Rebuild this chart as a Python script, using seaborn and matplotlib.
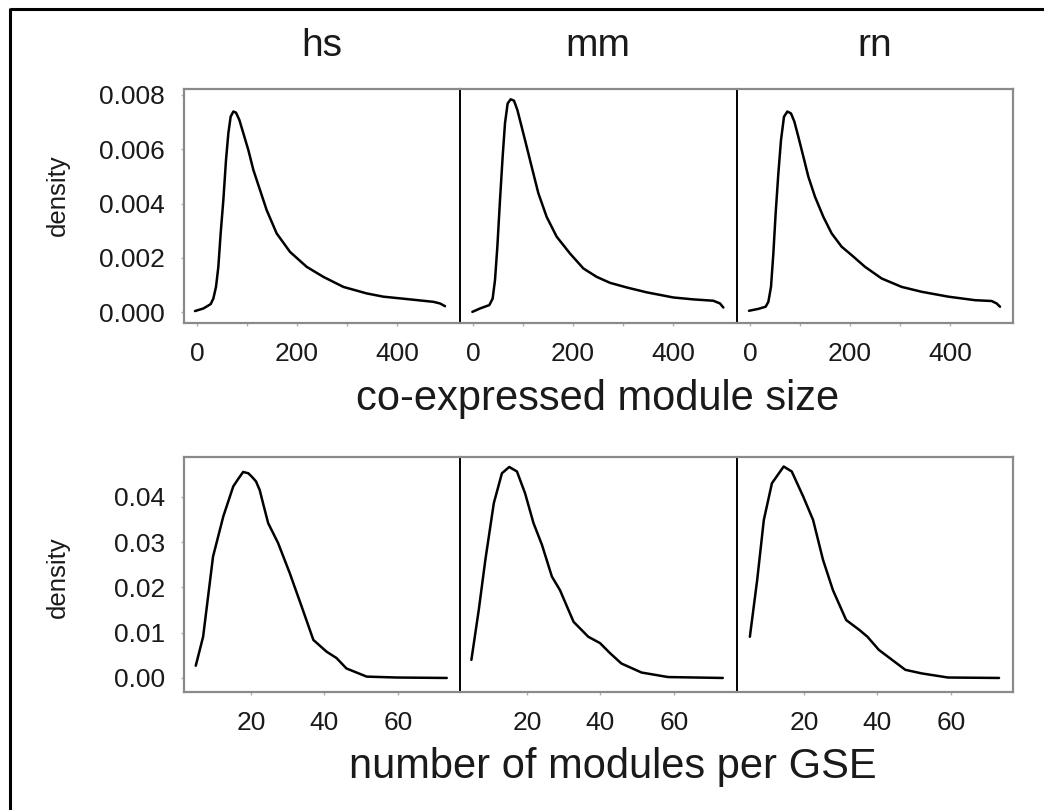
import matplotlib
matplotlib.use("Agg")
import matplotlib.pyplot as plt
import pandas as pd
import seaborn as sns
from matplotlib.lines import Line2D
from matplotlib.ticker import FormatStrFormatter, FixedLocator

species = ["hs", "mm", "rn"]

# top row: density of co-expressed module size
size_hs_x = [-4, 12.7, 27.3, 32.7, 38, 42.7, 47.3, 52.7, 58, 62.7, 67.3, 72.7, 78, 84.7, 92.7,
             102.7, 112.7, 126, 139.3, 159.3, 186, 219.3, 252.7, 292.7, 339.3, 372.7, 426,
             472.7, 486, 496]
size_hs_y = [0.00004, 0.000135, 0.000295, 0.0005, 0.00093, 0.00167, 0.0029, 0.00413, 0.0056,
             0.00659, 0.0072, 0.00739, 0.00735, 0.00708, 0.00659, 0.00597, 0.00524, 0.0045,
             0.00376, 0.0029, 0.00222, 0.00167, 0.0013, 0.00093, 0.00069, 0.00057, 0.00047,
             0.00038, 0.00032, 0.00022]

size_mm_x = [-1.3, 14, 32.7, 39.3, 44, 48.7, 54, 59.3, 64, 69.3, 75.3, 82, 88.7, 97.3, 107.3,
             117.3, 130.7, 147.3, 167.3, 194, 220.7, 247.3, 274, 307.3, 347.3, 400.7, 440.7,
             480.7, 494, 500.7]
size_mm_y = [0.00001, 0.000135, 0.00026, 0.0005, 0.00118, 0.00241, 0.00413, 0.00573, 0.00696,
             0.00769, 0.00784, 0.00779, 0.00745, 0.00683, 0.0061, 0.00536, 0.00438, 0.00351,
             0.00278, 0.00216, 0.00161, 0.0013, 0.00108, 0.00091, 0.00073, 0.00054, 0.00047,
             0.00042, 0.00032, 0.00017]

size_rn_x = [-2, 16.7, 31.3, 36.7, 42, 46.7, 51.3, 56.7, 62, 68, 74.7, 82, 88.7, 96.7, 106.7,
             116.7, 130, 146.7, 163.3, 183.3, 203.3, 230, 263.3, 303.3, 343.3, 396.7, 450,
             483.3, 493.3, 500]
size_rn_y = [0.00005, 0.00012, 0.0002, 0.00038, 0.00093, 0.00216, 0.00364, 0.00511, 0.00634,
             0.0072, 0.00739, 0.00732, 0.00702, 0.00646, 0.00573, 0.00499, 0.00425, 0.00351,
             0.0029, 0.00241, 0.0021, 0.00167, 0.00124, 0.00093, 0.00075, 0.00057, 0.00044,
             0.00041, 0.00032, 0.0002]

# bottom row: density of number of modules per GSE
num_hs_x = [5.0, 7.0, 9.7, 12.5, 15.2, 16.5, 17.9, 19.3, 20.2, 21.4, 22.4, 23.3, 24.7, 27.4,
            30.6, 33.8, 37.0, 40.6, 43.3, 46.0, 51.5, 59.6, 73.3]
num_hs_y = [0.0027, 0.0091, 0.0268, 0.0357, 0.0423, 0.0439, 0.0455, 0.0452, 0.0445, 0.0434,
            0.0415, 0.0386, 0.0342, 0.0298, 0.0231, 0.0158, 0.0084, 0.0058, 0.0044, 0.0021,
            0.0003, 0.0001, 0.0]

num_mm_x = [4.9, 6.9, 8.7, 11.0, 13.2, 15.2, 17.3, 19.5, 21.8, 24.1, 26.8, 29.0, 32.7, 36.7,
            39.9, 42.6, 45.7, 51.2, 58.4, 73.3]
num_mm_y = [0.0040, 0.0150, 0.0261, 0.0386, 0.0452, 0.0466, 0.0456, 0.0408, 0.0342, 0.0294,
            0.0224, 0.0194, 0.0124, 0.0091, 0.0077, 0.0055, 0.0032, 0.0012, 0.0002, 0.0]

num_rn_x = [5.3, 7.3, 9.1, 11.3, 14.5, 16.7, 19.8, 22.5, 25.2, 27.9, 31.5, 35.1, 37.3, 40.4,
            47.6, 52.1, 59.2, 73.1]
num_rn_y = [0.0091, 0.0217, 0.0349, 0.0430, 0.0467, 0.0456, 0.0401, 0.0349, 0.0261, 0.0194,
            0.0128, 0.0106, 0.0091, 0.0062, 0.0018, 0.0010, 0.0001, 0.0]

size_curves = {"hs": (size_hs_x, size_hs_y), "mm": (size_mm_x, size_mm_y), "rn": (size_rn_x, size_rn_y)}
num_curves = {"hs": (num_hs_x, num_hs_y), "mm": (num_mm_x, num_mm_y), "rn": (num_rn_x, num_rn_y)}

size_yticks = [0.0, 0.002, 0.004, 0.006, 0.008]
num_yticks = [0.0, 0.01, 0.02, 0.03, 0.04]

sns.set_style("white")
plt.rcParams["font.family"] = ["Liberation Sans", "DejaVu Sans"]
plt.rcParams["text.color"] = "#1a1a1a"

W, H = 1044, 810
fig = plt.figure(figsize=(W / 100, H / 100), dpi=100)

# outer frame (left + top)
fig.add_artist(Line2D([9.5 / W, 9.5 / W], [0, 1 - 7.5 / H], transform=fig.transFigure,
                      color="black", lw=2.2, solid_capstyle="butt"))
fig.add_artist(Line2D([9.5 / W, 1], [1 - 8.5 / H, 1 - 8.5 / H], transform=fig.transFigure,
                      color="black", lw=2.2, solid_capstyle="butt"))

col_left = [184, 460, 737]
col_w = 276


def style_axes(ax, col):
    for side, sp in ax.spines.items():
        sp.set_color("#8a8a8a")
        sp.set_linewidth(1.6)
    if col > 0:
        ax.spines["left"].set_color("black")
        ax.spines["left"].set_linewidth(1.4)
    if col < 2:
        ax.spines["right"].set_visible(False)
    ax.tick_params(axis="both", which="both", length=2.5, width=1, color="#b0b0b0",
                   labelsize=19, labelcolor="#1a1a1a", pad=11, left=True, bottom=True,
                   direction="out")
    ax.set_xlabel("")
    ax.set_ylabel("")


def draw_row(curves, top, bottom, xlim, ylim, xticks, minor, yticks, yfmt):
    axes = []
    for col, sp in enumerate(species):
        ax = fig.add_axes([col_left[col] / W, 1 - bottom / H, col_w / W, (bottom - top) / H])
        xs, ys = curves[sp]
        df = pd.DataFrame({"value": xs, "density": ys})
        sns.lineplot(data=df, x="value", y="density", ax=ax, color="black", lw=1.8,
                     estimator=None, sort=False)
        for ln in ax.lines:
            ln.set_solid_joinstyle("round")
            ln.set_solid_capstyle("round")
        ax.set_xlim(*xlim)
        ax.set_ylim(*ylim)
        ax.set_xticks(xticks)
        if minor:
            ax.xaxis.set_minor_locator(FixedLocator(minor))
        ax.set_yticks(yticks)
        ax.yaxis.set_major_formatter(FormatStrFormatter(yfmt))
        style_axes(ax, col)
        if col > 0:
            ax.tick_params(axis="y", left=False, labelleft=False)
        axes.append(ax)
    return axes


top_axes = draw_row(size_curves, 89, 323, (-26, 526), (-0.0004, 0.00822),
                    [0, 200, 400], [100, 300], size_yticks, "%.3f")
bot_axes = draw_row(num_curves, 457, 692, (1.8, 76.9), (-0.0031, 0.0488),
                    [20, 40, 60], None, num_yticks, "%.2f")

for ax, sp in zip(top_axes, species):
    ax.set_title(sp, fontsize=28, pad=24)

fig.text(58 / W, 1 - 195 / H, "density", rotation=90, ha="center", va="center", fontsize=18.5)
fig.text(58 / W, 1 - 577 / H, "density", rotation=90, ha="center", va="center", fontsize=18.5)

fig.text(598 / W, 1 - 410 / H, "co-expressed module size", ha="center", va="baseline",
         fontsize=30)
fig.text(613 / W, 1 - 778 / H, "number of modules per GSE", ha="center", va="baseline",
         fontsize=30)

fig.savefig("out.png", dpi=100, facecolor="white")
